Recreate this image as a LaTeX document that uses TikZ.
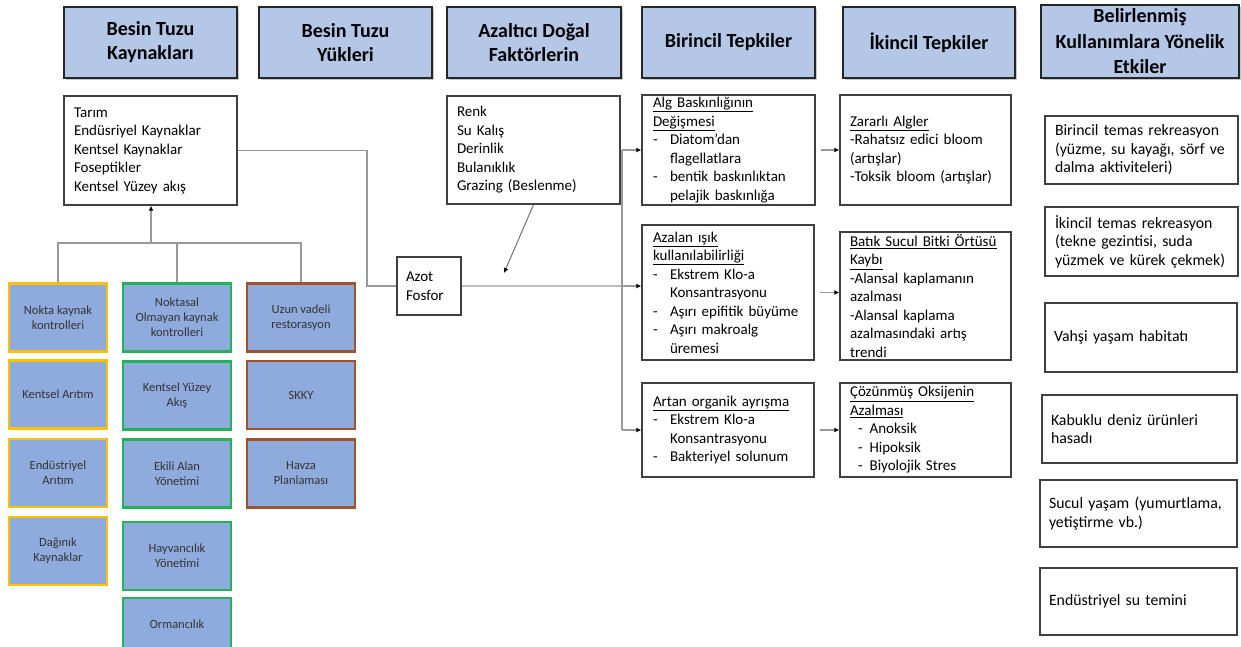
\documentclass[tikz,border=0pt]{standalone}
\usepackage{fontspec}
\setmainfont{Carlito}
\usetikzlibrary{arrows.meta,shadows}
\definecolor{hdblue}{HTML}{B4C7E7}
\definecolor{ctblue}{HTML}{8FAADC}
\definecolor{ctyellow}{HTML}{FFC000}
\definecolor{ctgreen}{HTML}{22B357}
\definecolor{ctbrown}{RGB}{160,82,45}
\newcommand{\dl}{\makebox[17pt][l]{-}}
\newcommand{\hi}{\hspace*{17pt}}

\begin{document}
\begin{tikzpicture}[x=1pt,y=-1pt,
    head/.style={draw=black!85,line width=2.4pt,fill=hdblue,align=center,inner sep=0pt,
      minimum height=71pt,font=\fontsize{20}{24}\selectfont\bfseries,
      drop shadow={shadow xshift=1.6pt,shadow yshift=-1.6pt,opacity=.45}},
    box/.style={draw=black!75,line width=1.4pt,fill=white,align=left,inner xsep=10pt,
      inner ysep=0pt,font=\fontsize{15}{18.5}\selectfont,
      drop shadow={shadow xshift=1pt,shadow yshift=-1pt,opacity=.2}},
    use/.style={box,inner xsep=9pt,font=\fontsize{15.8}{18.5}\selectfont},
    ctrl/.style={fill=ctblue,line width=2.6pt,align=center,inner sep=0pt,
      minimum height=68pt,font=\fontsize{12.5}{15}\selectfont,text=black!80},
    link/.style={draw=black!40,line width=1.3pt},
    tip/.style={-{Latex[color=black,length=5pt,width=5pt]}}]
  \useasboundingbox (0,0) rectangle (1241,647);
  \clip (0,0) rectangle (1241,647);

  % column heads
  \node[head,minimum width=173pt] (h1) at (150.5,42.5) {Besin Tuzu\\Kaynakları};
  \node[head,minimum width=173pt] (h2) at (345.5,42.5) {Besin Tuzu\\Yükleri};
  \node[head,minimum width=174pt] (h3) at (534,42.5) {Azaltıcı Doğal\\Faktörlerin};
  \node[head,minimum width=173pt] (h4) at (728.5,42.5) {Birincil Tepkiler};
  \node[head,minimum width=172pt] (h5) at (929,42.5) {İkincil Tepkiler};
  \node[head,minimum width=198pt,minimum height=73pt,
    font=\fontsize{20}{25.5}\selectfont\bfseries] (h6) at (1140,41.5)
    {Belirlenmiş\\Kullanımlara Yönelik\\Etkiler};

  % sources, factors, load
  \node[box,minimum height=109pt,text width=153pt] (src) at (150.5,150.5)
    {Tarım\\Endüsriyel Kaynaklar\\Kentsel Kaynaklar\\Foseptikler\\Kentsel Yüzey akış};
  \node[box,minimum height=108pt,text width=153pt] (fac) at (533.5,150)
    {Renk\\Su Kalış\\Derinlik\\Bulanıklık\\Grazing (Beslenme)};
  \node[box,minimum height=58pt,text width=46pt,inner xsep=9pt] (azot) at (429,286)
    {Azot\\Fosfor};

  % primary responses
  \node[box,minimum height=110pt,text width=151pt,inner xsep=11pt] (alg) at (728.5,150)
    {\underline{Alg Baskınlığının}\\\underline{Değişmesi}\\\dl Diatom’dan\\\hi flagellatlara\\
     \dl bentik baskınlıktan\\\hi pelajik baskınlığa};
  \node[box,minimum height=135pt,text width=150pt,inner xsep=11pt] (azl) at (728,292.5)
    {\underline{Azalan ışık}\\\underline{kullanılabilirliği}\\\dl Ekstrem Klo-a\\\hi Konsantrasyonu\\
     \dl Aşırı epifitik büyüme\\\dl Aşırı makroalg\\\hi üremesi};
  \node[box,minimum height=94pt,text width=150pt,inner xsep=11pt] (art) at (728,430)
    {\underline{Artan organik ayrışma}\\\dl Ekstrem Klo-a\\\hi Konsantrasyonu\\\dl Bakteriyel solunum};

  % secondary responses
  \node[box,minimum height=110pt,text width=151pt] (zar) at (925.5,150)
    {\underline{Zararlı Algler}\\-Rahatsız edici bloom\\(artışlar)\\-Toksik bloom (artışlar)};
  \node[box,minimum height=128pt,text width=151pt] (bat) at (925.5,296)
    {\underline{Batık Sucul Bitki Örtüsü}\\\underline{Kaybı}\\-Alansal kaplamanın\\azalması\\
     -Alansal kaplama\\azalmasındaki artış\\trendi};
  \node[box,minimum height=94pt,text width=151pt] (coz) at (925.5,430)
    {\underline{Çözünmüş Oksijenin}\\\underline{Azalması}\\\hspace*{8pt}-\hspace*{7pt}Anoksik\\
     \hspace*{8pt}-\hspace*{7pt}Hipoksik\\\hspace*{8pt}-\hspace*{7pt}Biyolojik Stres};

  % designated uses
  \node[use,minimum height=68pt,text width=173pt,inner xsep=10pt] (bt1) at (1141.5,150)
    {Birincil temas rekreasyon\\(yüzme, su kayağı, sörf ve\\dalma aktiviteleri)};
  \node[use,minimum height=69pt,text width=173pt,inner xsep=10pt] (bt2) at (1141.5,241.5)
    {İkincil temas rekreasyon\\(tekne gezintisi, suda\\yüzmek ve kürek çekmek)};
  \node[use,minimum height=69pt,text width=174pt] (vah) at (1141,337.5) {Vahşi yaşam habitatı};
  \node[use,minimum height=68pt,text width=177pt] (kab) at (1139.5,429)
    {Kabuklu deniz ürünleri\\hasadı};
  \node[use,minimum height=67pt,text width=179pt] (suc) at (1138.5,513.5)
    {Sucul yaşam (yumurtlama,\\yetiştirme vb.)};
  \node[use,minimum height=67pt,text width=179pt] (end) at (1138.5,601.5)
    {Endüstriyel su temini};

  % control measures
  \node[ctrl,draw=ctyellow,minimum width=98pt] (nk1) at (58,317.5) {Nokta kaynak\\kontrolleri};
  \node[ctrl,draw=ctyellow,minimum width=98pt] (nk2) at (58,394.5) {Kentsel Arıtım};
  \node[ctrl,draw=ctyellow,minimum width=98pt] (nk3) at (58,473) {Endüstriyel\\Arıtım};
  \node[ctrl,draw=ctyellow,minimum width=98pt] (nk4) at (58,551) {Dağınık\\Kaynaklar};
  \node[ctrl,draw=ctgreen,minimum width=108pt] (no1) at (177,317.5)
    {Noktasal\\Olmayan kaynak\\kontrolleri};
  \node[ctrl,draw=ctgreen,minimum width=108pt] (no2) at (177,395.5) {Kentsel Yüzey\\Akış};
  \node[ctrl,draw=ctgreen,minimum width=108pt] (no3) at (177,473.5) {Ekili Alan\\Yönetimi};
  \node[ctrl,draw=ctgreen,minimum width=108pt] (no4) at (177,556) {Hayvancılık\\Yönetimi};
  \node[ctrl,draw=ctgreen,minimum width=108pt,minimum height=52pt] (no5) at (177,624) {Ormancılık};
  \node[ctrl,draw=ctbrown,minimum width=108pt] (uz1) at (301,317.5) {Uzun vadeli\\restorasyon};
  \node[ctrl,draw=ctbrown,minimum width=108pt] (uz2) at (301,395) {SKKY};
  \node[ctrl,draw=ctbrown,minimum width=108pt] (uz3) at (301,473.5) {Havza\\Planlaması};

  % connectors
  \coordinate (jn) at (151,243);
  \draw[link] (nk1.north) |- (jn);
  \draw[link] (uz1.north) |- (jn);
  \draw[link] (no1.north) -- (no1.north |- jn);
  \draw[link,tip] (jn) -- (jn |- src.south);

  \coordinate (k1) at (367,286);
  \coordinate (bx) at (622,0);
  \coordinate (fa) at (504,273);
  \draw[link] (src.east) -| (k1) -- (azot.west);
  \draw[draw=black!25,line width=2.4pt] (azot.east) -- (azot.east -| bx);
  \draw[link] (alg.west -| bx) -- (art.west -| bx);
  \draw[link,tip] (alg.west -| bx) -- (alg.west);
  \draw[link,tip] (azot.east -| bx) -- (azot.east -| azl.west);
  \draw[link,tip] (art.west -| bx) -- (art.west);
  \draw[draw=black!55,line width=1pt,tip] (fac.south) -- (fa);

  \draw[link,tip,shorten <=5pt] (alg.east) -- (zar.west);
  \draw[link,tip,shorten <=5pt] (azl.east) -- (azl.east -| bat.west);
  \draw[link,tip,shorten <=5pt] (art.east) -- (coz.west);
\end{tikzpicture}
\end{document}
